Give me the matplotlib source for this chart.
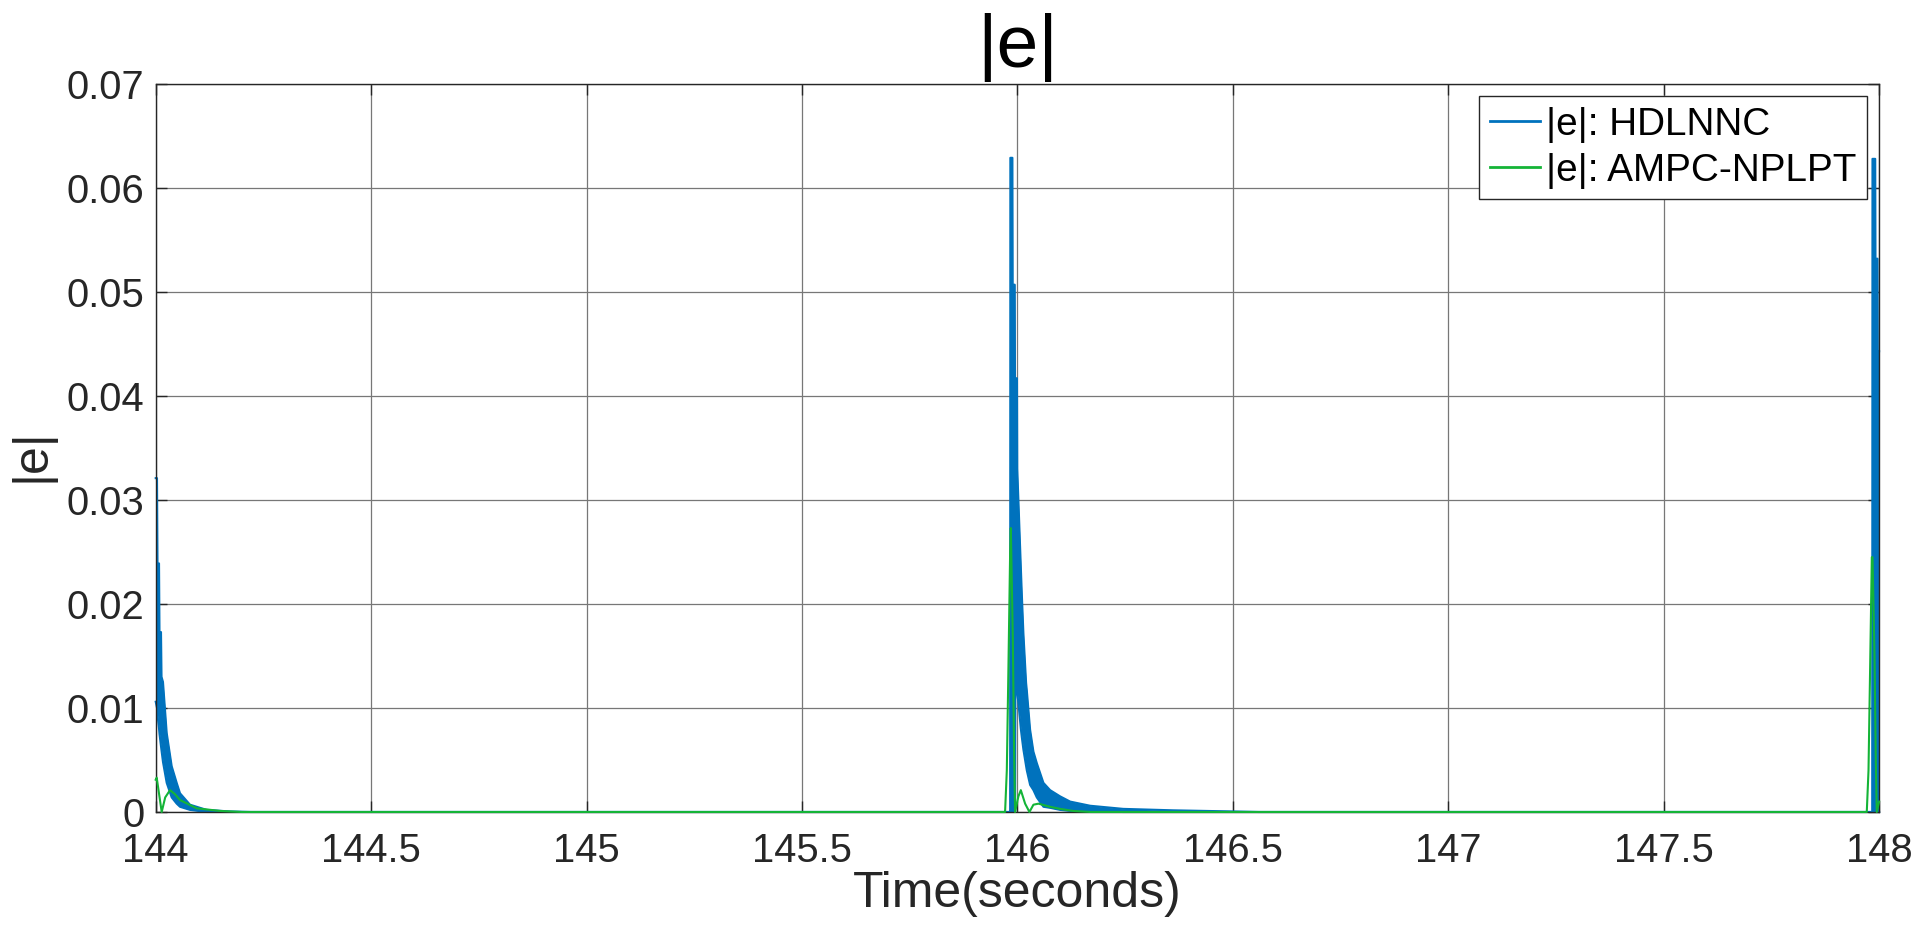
import matplotlib
matplotlib.use("Agg")
import matplotlib.pyplot as plt
from matplotlib.ticker import FixedLocator, FixedFormatter

plt.rcParams['font.family'] = ['Liberation Sans', 'DejaVu Sans']

# ---------------- data ----------------
# HDLNNC |e| : dense oscillation drawn as upper / lower envelope
blue_t = [144.0000, 144.0030, 144.0042, 144.0077, 144.0088, 144.0123, 144.0135,
          144.0169, 144.0255, 144.0371, 144.0487, 144.0564, 144.0796, 144.1184,
          144.1725, 144.2200,
          145.9800, 145.9831, 145.9836, 145.9884, 145.9890, 145.9938, 145.9944,
          145.9946, 145.9952, 145.9990, 145.9996, 146.0023, 146.0079, 146.0102,
          146.0139, 146.0202, 146.0218, 146.0295, 146.0372, 146.0450, 146.0604,
          146.0759, 146.0992, 146.1224, 146.1688, 146.2454, 146.3615, 146.4775,
          146.5600,
          147.9800, 147.9840, 147.9846, 147.9910, 147.9916, 147.9963, 147.9969,
          148.0000]
blue_hi = [0.0321, 0.0321, 0.0239, 0.0239, 0.0173, 0.0173, 0.0130,
           0.0125, 0.0076, 0.0044, 0.0028, 0.0018, 0.0007, 0.0002,
           0.00005, 0.0,
           0.0, 0.0, 0.0629, 0.0629, 0.0507, 0.0507, 0.0417,
           0.0417, 0.0417, 0.0417, 0.0330, 0.0300, 0.0236, 0.0210,
           0.0172, 0.0124, 0.0117, 0.0079, 0.0058, 0.0047, 0.0028,
           0.0021, 0.0015, 0.0010, 0.0006, 0.0003, 0.00016, 0.00007,
           0.0,
           0.0, 0.0, 0.0628, 0.0628, 0.0532, 0.0532, 0.0443,
           0.0443]
blue_lo = [0.0106, 0.0100, 0.0093, 0.0080, 0.0075, 0.0063, 0.0059,
           0.0048, 0.0028, 0.0014, 0.0008, 0.0005, 0.0002, 0.0,
           0.0, 0.0,
           0.0, 0.0, 0.0, 0.0, 0.0, 0.0, 0.0,
           0.0, 0.0114, 0.0114, 0.0114, 0.0105, 0.0080, 0.0072,
           0.0060, 0.0044, 0.0040, 0.0026, 0.0021, 0.0014, 0.0005,
           0.0004, 0.0002, 0.0001, 0.0001, 0.0, 0.0, 0.0,
           0.0,
           0.0, 0.0, 0.0, 0.0, 0.0, 0.0, 0.0,
           0.0]

# AMPC-NPLPT |e|
green_t = [144.0000, 144.0023, 144.0139, 144.0220, 144.0332, 144.0450, 144.0564,
           144.0950, 144.1500, 144.2000,
           145.9700, 145.9714, 145.9754, 145.9791, 145.9831, 145.9847, 145.9893,
           145.9923, 145.9946, 146.0023, 146.0079, 146.0179, 146.0279, 146.0372,
           146.0488, 146.0759, 146.0992, 146.1294, 146.1700,
           147.9700, 147.9714, 147.9754, 147.9791, 147.9831, 147.9847, 147.9893,
           147.9923, 147.9946, 148.0000]
green_v = [0.0031, 0.0033, 0.0, 0.0014, 0.0021, 0.0017, 0.00115,
           0.00035, 0.0001, 0.0,
           0.0, 0.0, 0.0040, 0.0137, 0.0249, 0.0273, 0.0169,
           0.0057, 0.0, 0.0015, 0.0021, 0.0008, 0.0, 0.0007,
           0.0008, 0.0005, 0.0003, 0.0001, 0.0,
           0.0, 0.0, 0.0040, 0.0137, 0.0245, 0.0245, 0.0152,
           0.0050, 0.0, 0.0010]

series_labels = ['|e|: HDLNNC', '|e|: AMPC-NPLPT']
x_ticks = [144, 144.5, 145, 145.5, 146, 146.5, 147, 147.5, 148]
x_tick_labels = ['144', '144.5', '145', '145.5', '146', '146.5', '147', '147.5', '148']
y_ticks = [0, 0.01, 0.02, 0.03, 0.04, 0.05, 0.06, 0.07]
y_tick_labels = ['0', '0.01', '0.02', '0.03', '0.04', '0.05', '0.06', '0.07']

# ---------------- figure ----------------
BLUE = '#0072BD'
GREEN = '#14b437'
DARK = '#262626'

fig = plt.figure(figsize=(19.2, 9.36), dpi=100)
ax = fig.add_axes([0.0811, 0.1325, 0.8976, 0.7778])

ax.fill_between(blue_t, blue_lo, blue_hi, color=BLUE, lw=0, zorder=2)
ln_b, = ax.plot(blue_t, blue_hi, color=BLUE, lw=1.5, label=series_labels[0],
                zorder=2.1, clip_on=False)
ax.plot(blue_t, blue_lo, color=BLUE, lw=1.5, zorder=2.1, clip_on=False)
ln_g, = ax.plot(green_t, green_v, color=GREEN, lw=1.5, label=series_labels[1],
                zorder=3, clip_on=False)

ax.set_xlim(144, 148)
ax.set_ylim(0, 0.07)
ax.xaxis.set_major_locator(FixedLocator(x_ticks))
ax.xaxis.set_major_formatter(FixedFormatter(x_tick_labels))
ax.yaxis.set_major_locator(FixedLocator(y_ticks))
ax.yaxis.set_major_formatter(FixedFormatter(y_tick_labels))

ax.grid(True, color='#777777', lw=0.9, zorder=1)
ax.set_axisbelow(True)
for s in ax.spines.values():
    s.set_color(DARK)
    s.set_linewidth(1.0)
ax.tick_params(direction='in', length=8, width=1.0, color=DARK,
               top=True, right=True, labelcolor=DARK, labelsize=28.8)
ax.tick_params(axis='x', pad=14.5)
ax.tick_params(axis='y', pad=8)

ax.set_title('|e|', fontsize=54, color='black', pad=12)
ax.set_xlabel('Time(seconds)', fontsize=36, color=DARK)
ax.xaxis.set_label_coords(0.5, -0.081)
ax.set_ylabel('|e|', fontsize=36, color=DARK)
ax.yaxis.set_label_coords(-0.059, 0.49)

leg = ax.legend(handles=[ln_b, ln_g], loc='upper right', fontsize=27.9,
                frameon=True, fancybox=False, framealpha=1, edgecolor=DARK,
                borderaxespad=0.31, handlelength=1.3, handletextpad=0.15,
                labelspacing=0.25, borderpad=0.28)
leg.get_frame().set_linewidth(1.0)
for line in leg.get_lines():
    line.set_linewidth(2.0)

fig.savefig('out.png', dpi=100)
